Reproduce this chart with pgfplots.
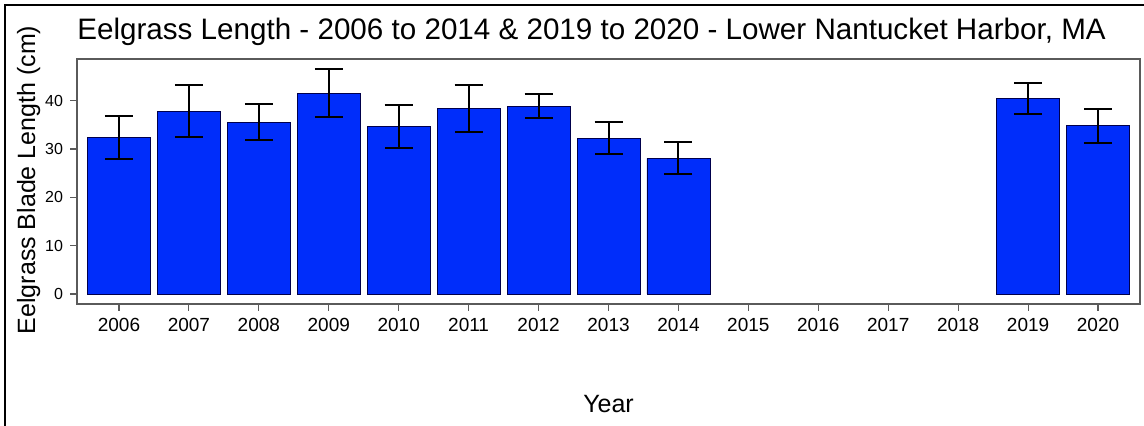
\documentclass[border=0pt]{standalone}
\usepackage{pgfplots}
\pgfplotsset{compat=1.18}
\usepackage{pgfplotstable}
\usepackage{fontspec}
\setmainfont{Liberation Sans}
\definecolor{barblue}{RGB}{0,45,250}
\definecolor{frame}{RGB}{90,90,90}
\pgfplotstableread{
x val err
0 32.35 4.45
1 37.85 5.45
2 35.55 3.75
3 41.6 4.9
4 34.7 4.4
5 38.4 4.9
6 38.85 2.45
7 32.25 3.35
8 28.1 3.3
13 40.45 3.15
14 34.85 3.55
}\eelgrass
\begin{document}
\begin{tikzpicture}
\useasboundingbox (0pt,0pt) rectangle (572pt,213pt);
\draw[line width=0.8pt] (2.5pt,0pt) -- (2.5pt,210.5pt) -- (572pt,210.5pt);
\begin{axis}[
  at={(38.5pt,61pt)}, anchor=south west,
  scale only axis, width=531.5pt, height=122.5pt,
  xmin=-0.6, xmax=14.6, ymin=-2.07, ymax=48.65,
  axis line style={frame, line width=0.6pt},
  xtick={0,...,14},
  xticklabels={2006,2007,2008,2009,2010,2011,2012,2013,2014,2015,2016,2017,2018,2019,2020},
  ytick={0,10,20,30,40},
  tick align=outside, major tick length=3.5pt,
  tick style={frame, line width=0.6pt},
  xtick pos=bottom, ytick pos=left,
  /pgf/number format/assume math mode=true,
  xticklabel style={font=\fontsize{9.5}{11}\selectfont},
  yticklabel style={font=\fontsize{8}{10}\selectfont},
]
\addplot[ybar, bar width=0.9, bar shift=0pt, fill=barblue, draw=black!70!blue, line width=0.4pt,
  error bars/.cd, y dir=both, y explicit,
  error bar style={black, line width=1pt},
  error mark options={rotate=90, black, line width=1pt, mark size=7pt}]
  table[x=x, y=val, y error=err] {\eelgrass};
\end{axis}
\node[anchor=base west, inner sep=0pt, font=\fontsize{14.8}{17}\selectfont] at (38.5pt,193.35pt) {Eelgrass Length - 2006 to 2014 \& 2019 to 2020 - Lower Nantucket Harbor, MA};
\node[rotate=90, anchor=base, inner sep=0pt, font=\fontsize{12.5}{15}\selectfont] at (17.5pt,123pt) {Eelgrass Blade Length (cm)};
\node[anchor=base, inner sep=0pt, font=\fontsize{12.5}{15}\selectfont] at (304.25pt,6.65pt) {Year};
\end{tikzpicture}
\end{document}
